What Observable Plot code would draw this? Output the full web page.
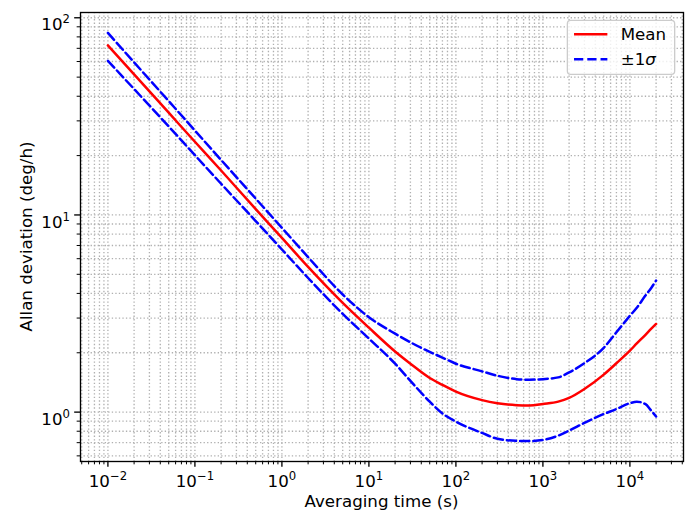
<!DOCTYPE html>
<html>
<head>
<meta charset="utf-8">
<script src="https://cdn.jsdelivr.net/npm/d3@7"></script>
<script src="https://cdn.jsdelivr.net/npm/@observablehq/plot@0.6"></script>
<style>
  body { margin: 0; background: #ffffff; }
  #chart svg { display: block; }
</style>
</head>
<body>
<div id="chart"></div>
<script>
// ---- Data ----
const tau = [0.01, 0.02, 0.05, 0.1, 0.2, 0.5, 1, 2, 5, 10, 20, 30, 50, 70, 100, 200, 300, 500, 700,
             1000, 1500, 2000, 3000, 5000, 7000, 10000, 12000, 15000, 17500, 20000];
const meanDev = [72.4, 51.6, 33.0, 23.5, 16.8, 10.7, 7.65, 5.45, 3.58, 2.68, 2.03, 1.76, 1.49, 1.375, 1.27, 1.15, 1.11, 1.085, 1.08,
                 1.10, 1.13, 1.18, 1.31, 1.55, 1.77, 2.05, 2.23, 2.46, 2.64, 2.8];
const upperDev = [83.8, 59.4, 37.8, 26.8, 19.0, 12.1, 8.6, 6.11, 3.95, 3.03, 2.50, 2.26, 2.02, 1.89, 1.76, 1.61, 1.53, 1.47, 1.46,
                  1.47, 1.50, 1.59, 1.77, 2.12, 2.54, 3.08, 3.38, 3.89, 4.25, 4.65];
const lowerDev = [60.5, 43.5, 28.1, 20.1, 14.4, 9.31, 6.68, 4.79, 3.15, 2.36, 1.76, 1.44, 1.13, 0.985, 0.895, 0.784, 0.733, 0.715, 0.713,
                  0.722, 0.76, 0.806, 0.882, 0.978, 1.036, 1.11, 1.13, 1.10, 1.02, 0.95];

const seriesNames = ["Mean", "±1"];   // second entry is followed by an italic σ
const sigmaGlyph = "σ";
const xLabel = "Averaging time (s)";
const yLabel = "Allan deviation (deg/h)";
const xMajor = [1e-2, 1e-1, 1e0, 1e1, 1e2, 1e3, 1e4];
const yMajor = [1e0, 1e1, 1e2];

// ---- Layout ----
const W = 687, H = 515;
const mL = 80, mR = 4, mT = 12, mB = 54;
const FS = 16.67;
const FONT = "'DejaVu Sans', sans-serif";

// matplotlib-like 5% margins in log space
function logDomain(lo, hi) {
  const a = Math.log10(lo), b = Math.log10(hi), p = (b - a) * 0.05;
  return [10 ** (a - p), 10 ** (b + p)];
}
const xDomain = logDomain(d3.min(tau), d3.max(tau));
const yDomain = logDomain(d3.min(lowerDev), d3.max(upperDev));

function minorTicks(domain) {
  const out = [];
  for (let e = -4; e <= 5; e++) for (let k = 2; k <= 9; k++) {
    const v = k * 10 ** e;
    if (v >= domain[0] && v <= domain[1]) out.push(v);
  }
  return out;
}
const xMinor = minorTicks(xDomain);
const yMinor = minorTicks(yDomain);

const rows = tau.map((t, i) => ({tau: t, mean: meanDev[i], upper: upperDev[i], lower: lowerDev[i]}));
const fmt = d => "10^" + Math.round(Math.log10(d));

const gridStyle = {stroke: "#b0b0b0", strokeOpacity: 1, strokeWidth: 1.33, strokeDasharray: "1.33,2.2"};

const plot = Plot.plot({
  width: W, height: H,
  marginLeft: mL, marginRight: mR, marginTop: mT, marginBottom: mB,
  style: {fontFamily: FONT, fontSize: FS + "px", background: "#ffffff", color: "#000000", overflow: "visible"},
  x: {type: "log", domain: xDomain},
  y: {type: "log", domain: yDomain},
  marks: [
    Plot.gridX(xMinor.concat(xMajor), gridStyle),
    Plot.gridY(yMinor.concat(yMajor), gridStyle),
    Plot.line(rows, {x: "tau", y: "mean", stroke: "#ff0000", strokeWidth: 2.5, curve: "monotone-x"}),
    Plot.line(rows, {x: "tau", y: "upper", stroke: "#0000ff", strokeWidth: 2.5, strokeDasharray: "9.25,4", curve: "monotone-x"}),
    Plot.line(rows, {x: "tau", y: "lower", stroke: "#0000ff", strokeWidth: 2.5, strokeDasharray: "9.25,4", curve: "monotone-x"}),
    Plot.axisX({ticks: xMinor, tickSize: 3.33, strokeWidth: 1, text: null, label: null, stroke: "#000"}),
    Plot.axisX({ticks: xMajor, tickSize: 5.83, strokeWidth: 1.33, tickPadding: 8, tickFormat: fmt, label: null, stroke: "#000", fill: "#000", fontSize: FS}),
    Plot.axisY({ticks: yMinor, tickSize: 3.33, strokeWidth: 1, text: null, label: null, stroke: "#000"}),
    Plot.axisY({ticks: yMajor, tickSize: 5.83, strokeWidth: 1.33, tickPadding: 4.7, tickFormat: fmt, label: null, stroke: "#000", fill: "#000", fontSize: FS}),
    Plot.frame({stroke: "#000000", strokeWidth: 1.33})
  ]
});
document.getElementById("chart").appendChild(plot);

const svg = d3.select(plot);

// superscript exponents in tick labels, like matplotlib mathtext
svg.selectAll('g[aria-label="x-axis tick label"] text, g[aria-label="y-axis tick label"] text').each(function () {
  const s = this.textContent;
  if (!s.includes("^")) return;
  const [base, ex] = s.split("^");
  const el = d3.select(this);
  el.text(base);
  el.append("tspan").attr("dy", "-7px").attr("font-size", (FS * 0.7) + "px").text(ex.replace("-", "\u2212"));
});
svg.selectAll('g[aria-label="y-axis tick label"] text').attr("dy", "0.44em");

// axis titles
const plotW = W - mL - mR, plotH = H - mT - mB;
svg.append("text")
  .attr("x", mL + plotW / 2).attr("y", 507)
  .attr("text-anchor", "middle").attr("font-family", FONT)
  .attr("font-size", FS + "px").attr("fill", "#000").text(xLabel);
svg.append("text")
  .attr("transform", `translate(31.5,${mT + plotH / 2}) rotate(-90)`)
  .attr("text-anchor", "middle").attr("font-family", FONT)
  .attr("font-size", FS + "px").attr("fill", "#000").text(yLabel);

// legend (upper right, inside axes)
const pad = 0.5 * FS;
const lgW = 107.3, lgH = 54;
const lgX = W - mR - pad - lgW, lgY = mT + pad;
const lg = svg.append("g").attr("aria-label", "legend");
lg.append("rect").attr("x", lgX).attr("y", lgY).attr("width", lgW).attr("height", lgH)
  .attr("rx", 3.3).attr("fill", "#ffffff").attr("fill-opacity", 0.8)
  .attr("stroke", "#cccccc").attr("stroke-width", 1.33);
const hx0 = lgX + 0.4 * FS, hx1 = hx0 + 2 * FS, tx = hx1 + 0.8 * FS;
const rowsY = [lgY + 14, lgY + 39];
lg.append("line").attr("x1", hx0).attr("x2", hx1).attr("y1", rowsY[0]).attr("y2", rowsY[0])
  .attr("stroke", "#ff0000").attr("stroke-width", 2.5);
lg.append("line").attr("x1", hx0).attr("x2", hx1).attr("y1", rowsY[1]).attr("y2", rowsY[1])
  .attr("stroke", "#0000ff").attr("stroke-width", 2.5).attr("stroke-dasharray", "9.25,4");
lg.append("text").attr("x", tx).attr("y", rowsY[0] + 5.5).attr("text-anchor", "start")
  .attr("font-family", FONT).attr("font-size", FS + "px").attr("fill", "#000")
  .text(seriesNames[0]);
const t2 = lg.append("text").attr("x", tx).attr("y", rowsY[1] + 5.5).attr("text-anchor", "start")
  .attr("font-family", FONT).attr("font-size", FS + "px").attr("fill", "#000")
  .text(seriesNames[1]);
t2.append("tspan").attr("font-style", "italic").text(sigmaGlyph);
</script>
</body>
</html>
